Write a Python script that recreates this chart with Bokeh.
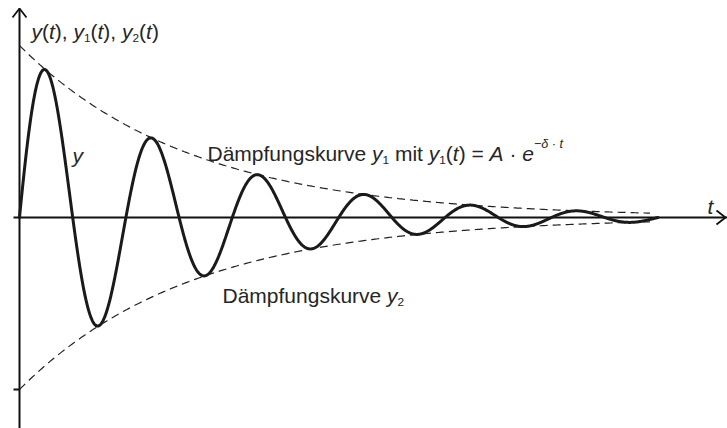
import numpy as np
from bokeh.plotting import figure
from bokeh.models import Range1d, Label
from bokeh.embed import file_html
from bokeh.resources import INLINE

# --- values (t in half-periods, y relative to A) ---
A = 1.0            # start value of the envelope
delta = 0.31       # damping constant per half-period
omega = np.pi      # one half-period per t unit
t_end = 12.0       # oscillation drawn up to 12 half-periods
env_end = 11.85    # dashed envelopes end here
y_tick = [-A]      # single tick on the y-axis

# --- layout (reference pixel mapping) ---
W, H = 727, 428
SX, SY = 53.2, 172.0        # pixels per unit
OXr, OYr = 19, 217          # origin in reference pixels

def dx(px):
    return (px - OXr) / SX

def dy(py):
    return (OYr - py) / SY

p = figure(width=W, height=H,
           x_range=Range1d(-OXr / SX, (W - OXr) / SX),
           y_range=Range1d(-(H - OYr) / SY, OYr / SY),
           output_backend="svg", toolbar_location=None, min_border=0)
p.axis.visible = False
p.grid.visible = False
p.outline_line_color = None
p.background_fill_color = "white"
p.border_fill_color = "white"

AX = "#111111"
TC = "#262626"

# axes
p.line([dx(13), dx(727)], [0, 0], line_width=2, line_color=AX)
p.line([dx(716), dx(725), dx(716)], [dy(210), 0, dy(224)], line_width=1.8, line_color=AX)
p.line([0, 0], [dy(432), dy(8)], line_width=2, line_color=AX)
p.line([dx(12), 0, dx(26)], [dy(17), dy(8), dy(17)], line_width=1.8, line_color=AX)
for v in y_tick:
    p.line([dx(13), 0], [v, v], line_width=2, line_color=AX)

# envelopes
te = np.linspace(0, env_end, 400)
p.line(te, A * np.exp(-delta * te), line_dash="8 5", line_width=1.2, line_color="#222222")
p.line(te, -A * np.exp(-delta * te), line_dash="8 5", line_width=1.2, line_color="#222222")

# damped oscillation
t = np.linspace(0, t_end, 1500)
y = A * np.exp(-delta * t) * np.sin(omega * t)
p.line(t, y, line_width=3, line_color="#1a1a1a", line_join="round", line_cap="round")

# --- rich text helper ---
ADV = {' ': 278, '(': 333, ')': 333, ',': 278, '=': 584, '1': 556, '2': 556,
       'A': 667, 'D': 722, 'a': 556, 'ä': 556, 'e': 556, 'f': 278, 'g': 556,
       'i': 222, 'k': 500, 'm': 833, 'n': 556, 'p': 556, 'r': 333, 's': 500,
       't': 278, 'u': 556, 'v': 500, 'y': 500, '·': 333, '−': 584, 'δ': 556}
FONT = "Liberation Sans"
FS = 21

def width(txt, fs):
    return sum(ADV.get(c, 556) for c in txt) / 1000 * fs

def rich(pieces, x_px, base_px, size=FS):
    x = x_px
    for txt, italic, scale, rise in pieces:
        fs = size * scale
        lead = len(txt) - len(txt.lstrip(" "))
        core = txt.strip(" ")
        x += width(" " * lead, fs)
        if core:
            p.add_layout(Label(x=dx(x), y=dy(base_px - rise * size), text=core,
                               text_font=FONT, text_font_size=f"{fs:.1f}px",
                               text_font_style="italic" if italic else "normal",
                               text_baseline="alphabetic", text_align="left",
                               text_color=TC))
        x += width(txt[lead:], fs)

N = (False, 1, 0)
I = (True, 1, 0)
SUB = (False, 0.56, -0.32)

def S(txt, st):
    return (txt,) + st

rich([S("y", I), S("(", N), S("t", I), S("), ", N),
      S("y", I), S("1", SUB), S("(", N), S("t", I), S("), ", N),
      S("y", I), S("2", SUB), S("(", N), S("t", I), S(")", N)], 31, 31)

rich([S("Dämpfungskurve ", N), S("y", I), S("1", SUB), S(" mit ", N),
      S("y", I), S("1", SUB), S("(", N), S("t", I), S(") = ", N),
      S("A", I), S(" · ", N), S("e", I), ("−δ · t", True, 0.6, 0.45)], 207, 153)

rich([S("Dämpfungskurve ", N), S("y", I), S("2", SUB)], 222, 295)

rich([S("y", I)], 72, 155)
rich([S("t", I)], 707, 206)

open("out.html", "w").write(file_html(p, INLINE))
